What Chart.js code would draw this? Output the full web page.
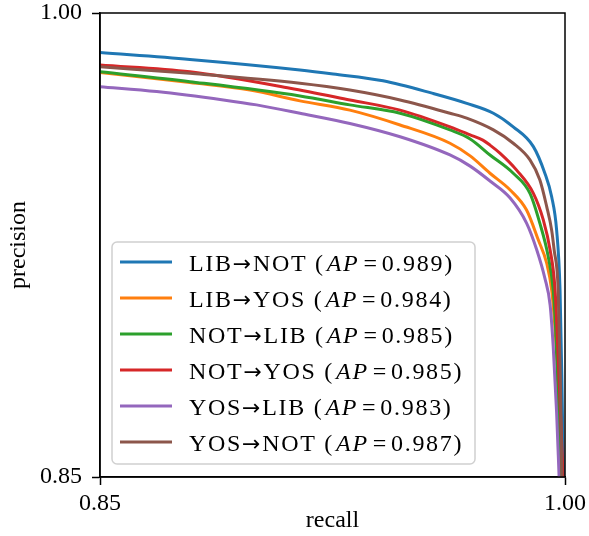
<!DOCTYPE html>
<html>
<head>
<meta charset="utf-8">
<script src="https://cdn.jsdelivr.net/npm/chart.js@4.4.1/dist/chart.umd.min.js"></script>
<style>
  html, body { margin: 0; padding: 0; background: #fff; }
  #wrap { width: 589px; height: 536px; }
</style>
</head>
<body>
<div id="wrap"><canvas id="prChart" width="589" height="536"></canvas></div>
<script>
// series, in the order of the legend
const seriesNames = ['LIB→NOT', 'LIB→YOS', 'NOT→LIB', 'NOT→YOS', 'YOS→LIB', 'YOS→NOT'];
const apScores = ['0.989', '0.984', '0.985', '0.985', '0.983', '0.987'];
const seriesColors = ['#1f77b4', '#ff7f0e', '#2ca02c', '#d62728', '#9467bd', '#8c564b'];

// axis range and tick labels
const axisMin = 0.85;
const axisMax = 1.00;
const tickValues = [0.85, 1.00];

// precision-recall points
const libNotRecall = [0.85, 0.8790, 0.9145, 0.9252, 0.9413, 0.9574, 0.9683, 0.9769, 0.9833, 0.9898, 0.9935, 0.9957, 0.9973, 0.9984, 0.9990, 0.9995];
const libNotPrecision = [0.9872, 0.9850, 0.9816, 0.9803, 0.9781, 0.9740, 0.9708, 0.9676, 0.9632, 0.9568, 0.9482, 0.9406, 0.9298, 0.9104, 0.8813, 0.85];

const libYosRecall = [0.85, 0.8790, 0.8984, 0.9145, 0.9306, 0.9468, 0.9629, 0.9694, 0.9758, 0.9823, 0.9876, 0.9914, 0.9941, 0.9957, 0.9968, 0.9977, 0.9985];
const libYosPrecision = [0.9808, 0.9775, 0.9751, 0.9716, 0.9686, 0.9638, 0.9579, 0.9538, 0.9482, 0.9428, 0.9363, 0.9266, 0.9191, 0.9104, 0.8975, 0.8813, 0.85];

const notLibRecall = [0.85, 0.8790, 0.9145, 0.9306, 0.9468, 0.9629, 0.9694, 0.9758, 0.9833, 0.9887, 0.9919, 0.9946, 0.9962, 0.9970, 0.9976, 0.9987];
const notLibPrecision = [0.9810, 0.9778, 0.9732, 0.9703, 0.9676, 0.9622, 0.9593, 0.9541, 0.9482, 0.9417, 0.9320, 0.9212, 0.9104, 0.8975, 0.8813, 0.85];

const notYosRecall = [0.85, 0.8790, 0.9113, 0.9306, 0.9468, 0.9629, 0.9694, 0.9735, 0.9758, 0.9790, 0.9844, 0.9898, 0.9930, 0.9952, 0.9968, 0.9981, 0.9994];
const notYosPrecision = [0.9832, 0.9810, 0.9757, 0.9719, 0.9686, 0.9632, 0.9606, 0.9589, 0.9573, 0.9547, 0.9492, 0.9417, 0.9331, 0.9234, 0.9104, 0.8813, 0.85];

const yosLibRecall = [0.85, 0.8683, 0.8898, 0.9005, 0.9145, 0.9306, 0.9468, 0.9629, 0.9694, 0.9758, 0.9823, 0.9876, 0.9909, 0.9935, 0.9952, 0.9962, 0.9973, 0.9981];
const yosLibPrecision = [0.9762, 0.9746, 0.9719, 0.9703, 0.9676, 0.9643, 0.9600, 0.9541, 0.9505, 0.9457, 0.9402, 0.9321, 0.9234, 0.9143, 0.9056, 0.8921, 0.8707, 0.85];

const yosNotRecall = [0.85, 0.8790, 0.9145, 0.9306, 0.9468, 0.9629, 0.9683, 0.9769, 0.9833, 0.9887, 0.9919, 0.9941, 0.9957, 0.9965, 0.9978, 0.9985, 0.9990];
const yosNotPrecision = [0.9826, 0.9805, 0.9773, 0.9751, 0.9719, 0.9676, 0.9660, 0.9622, 0.9579, 0.9525, 0.9460, 0.9374, 0.9298, 0.9234, 0.9104, 0.8813, 0.85];

const recallSets = [libNotRecall, libYosRecall, notLibRecall, notYosRecall, yosLibRecall, yosNotRecall];
const precisionSets = [libNotPrecision, libYosPrecision, notLibPrecision, notYosPrecision, yosLibPrecision, yosNotPrecision];

const serif = '"Liberation Serif", "Times New Roman", serif';
const font24 = { family: serif, size: 24 };

const datasets = seriesNames.map((name, i) => ({
    label: name,
    data: recallSets[i].map((r, j) => ({ x: r, y: precisionSets[i][j] })),
    borderColor: seriesColors[i],
    backgroundColor: seriesColors[i],
    borderWidth: 3,
    pointRadius: 0,
    cubicInterpolationMode: 'monotone',
    fill: false,
    order: seriesNames.length - i // later series on top, like matplotlib
}));

// legend drawn by hand so "AP" can be italic, plus the top/right frame
const prLegend = {
    id: 'prLegend',
    afterDatasetsDraw(chart) {
        const ctx = chart.ctx;
        const a = chart.chartArea;
        ctx.save();

        ctx.strokeStyle = '#000';
        ctx.lineWidth = 1.5;
        ctx.strokeRect(a.left, a.top, a.right - a.left, a.bottom - a.top);

        const bx = a.left + 12, bw = 363, bh = 222;
        const by = a.bottom - 13 - bh;
        ctx.beginPath();
        ctx.roundRect(bx, by, bw, bh, 5);
        ctx.fillStyle = 'rgba(255,255,255,0.8)';
        ctx.fill();
        ctx.strokeStyle = '#d0d0d0';
        ctx.lineWidth = 1.5;
        ctx.stroke();

        const roman = `24px ${serif}`;
        const italic = `italic 24px ${serif}`;
        const arrowFont = '22px "DejaVu Sans", sans-serif';
        ctx.textBaseline = 'alphabetic';
        ctx.letterSpacing = '1.7px';
        seriesNames.forEach((name, i) => {
            const y = by + 20 + i * 36;
            ctx.strokeStyle = seriesColors[i];
            ctx.lineWidth = 3;
            ctx.beginPath();
            ctx.moveTo(bx + 8, y);
            ctx.lineTo(bx + 60, y);
            ctx.stroke();

            ctx.fillStyle = '#000';
            const [from, to] = name.split('→');
            let x = bx + 77;
            const base = y + 9;
            const put = (txt, f, gap) => {
                ctx.font = f;
                ctx.fillText(txt, x, base);
                x += ctx.measureText(txt).width + gap;
            };
            put(from, roman, 0);
            put('→', arrowFont, 0);
            put(to + ' (', roman, 2);
            put('AP', italic, 4);
            put('=', roman, 3);
            put(apScores[i] + ')', roman, 0);
        });
        ctx.restore();
    }
};

const endTicks = (scale) => { scale.ticks = tickValues.map((v) => ({ value: v })); };
const noEdgePadding = (s) => { s.paddingTop = 0; s.paddingBottom = 0; s.paddingLeft = 0; s.paddingRight = 0; };

new Chart(document.getElementById('prChart').getContext('2d'), {
    type: 'line',
    data: { datasets },
    options: {
        responsive: false,
        animation: false,
        devicePixelRatio: 1,
        layout: { padding: { left: 0, right: 24, top: 13, bottom: 0 } },
        plugins: { legend: { display: false }, tooltip: { enabled: false } },
        scales: {
            x: {
                type: 'linear',
                min: axisMin,
                max: axisMax,
                afterBuildTicks: endTicks,
                afterFit: (s) => { s.height = 59; noEdgePadding(s); },
                ticks: { callback: (v) => v.toFixed(2), font: font24, color: '#000', padding: 4, maxRotation: 0, autoSkip: false },
                grid: { drawOnChartArea: false, drawTicks: true, tickLength: 8, tickColor: '#000', tickWidth: 1.5 },
                border: { display: true, color: '#000', width: 1.5 },
                title: { display: true, text: 'recall', font: font24, color: '#000', padding: { top: 0, bottom: 1 } }
            },
            y: {
                type: 'linear',
                min: axisMin,
                max: axisMax,
                afterBuildTicks: endTicks,
                afterFit: (s) => { s.width = 100; noEdgePadding(s); },
                ticks: { callback: (v) => v.toFixed(2), font: font24, color: '#000', padding: 10, autoSkip: false },
                grid: { drawOnChartArea: false, drawTicks: true, tickLength: 8, tickColor: '#000', tickWidth: 1.5 },
                border: { display: true, color: '#000', width: 1.5 },
                title: { display: true, text: 'precision', font: font24, color: '#000', padding: { top: 4, bottom: 0 } }
            }
        }
    },
    plugins: [prLegend]
});
</script>
</body>
</html>
